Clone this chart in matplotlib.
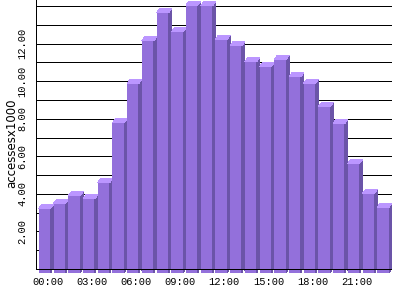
#!/usr/bin/env python3
import matplotlib
matplotlib.use('Agg')
import matplotlib.pyplot as plt
from matplotlib.patches import Polygon

# accesses per hour (x1000)
hours = list(range(24))
accesses = [3.44, 3.71, 4.11, 3.95, 4.81, 8.00, 10.10, 12.36, 13.85, 12.83,
            14.26, 14.23, 12.45, 12.10, 11.25, 10.98, 11.37, 10.45, 10.10, 8.85,
            7.97, 5.84, 4.24, 3.50]
xtick_hours = [0, 3, 6, 9, 12, 15, 18, 21]
xtick_labels = ['%02d:00' % h for h in xtick_hours]
ytick_values = [2, 4, 6, 8, 10, 12]

front_col = '#9370db'
side_col = '#6b54a8'
top_col = '#bb96ff'

# fake 3d depth, in data units
dx = 0.2
dy = 0.213
w = 0.8
lw = 0.68

fig = plt.figure(figsize=(4, 3), dpi=100)
ax = fig.add_axes([0.09, 0.09, 0.89, 0.91])
ax.set_xlim(-0.2, 24.0)
ax.set_ylim(-dy, 14.32)

# back plane grid
ax.hlines(range(1, 15), -0.2, 24.0, color='black', lw=lw, zorder=0, antialiased=False)

for h, v in zip(hours, accesses):
    x0 = h
    y0 = -dy
    y1 = v - dy
    ax.add_patch(Polygon([(x0, y0), (x0 + w, y0), (x0 + w, y1), (x0, y1)],
                         closed=True, fc=front_col, ec='none', zorder=2, antialiased=False))
    ax.add_patch(Polygon([(x0 + w, y0), (x0 + w + dx, y0 + dy), (x0 + w + dx, y1 + dy), (x0 + w, y1)],
                         closed=True, fc=side_col, ec='none', zorder=2, antialiased=False))
    ax.add_patch(Polygon([(x0, y1), (x0 + dx, y1 + dy), (x0 + w + dx, y1 + dy), (x0 + w, y1)],
                         closed=True, fc=top_col, ec='none', zorder=2, antialiased=False))

# axis line at zero, drawn over the bars
ax.hlines(0, -0.2, 24.0, color='black', lw=lw, zorder=3, antialiased=False)
ax.vlines([h + 0.9 for h in hours], -0.17, -0.05, color='white', lw=lw, zorder=3,
          antialiased=False)

for s in ['top', 'right', 'bottom']:
    ax.spines[s].set_visible(False)
ax.spines['left'].set_bounds(0, 14.32)
ax.spines['left'].set_linewidth(lw)
ax.spines['left'].set_antialiased(False)
ax.spines['left'].set_zorder(3)

ax.set_xticks([h + 0.6 for h in xtick_hours])
ax.set_xticklabels(xtick_labels, family='Liberation Mono', fontsize=7.5)
ax.set_yticks(ytick_values)
ax.set_yticklabels(['%.2f' % v for v in ytick_values], family='Liberation Mono',
                   fontsize=7.5, rotation=90, va='center')
ax.tick_params(axis='x', length=0, pad=3)
ax.tick_params(axis='y', length=0, pad=6)

fig.text(12 / 400, 1 - 143 / 300, 'accessesx1000', rotation=90, ha='center', va='center',
         fontsize=8.5, family='DejaVu Sans')

fig.savefig('out.png', dpi=100)
